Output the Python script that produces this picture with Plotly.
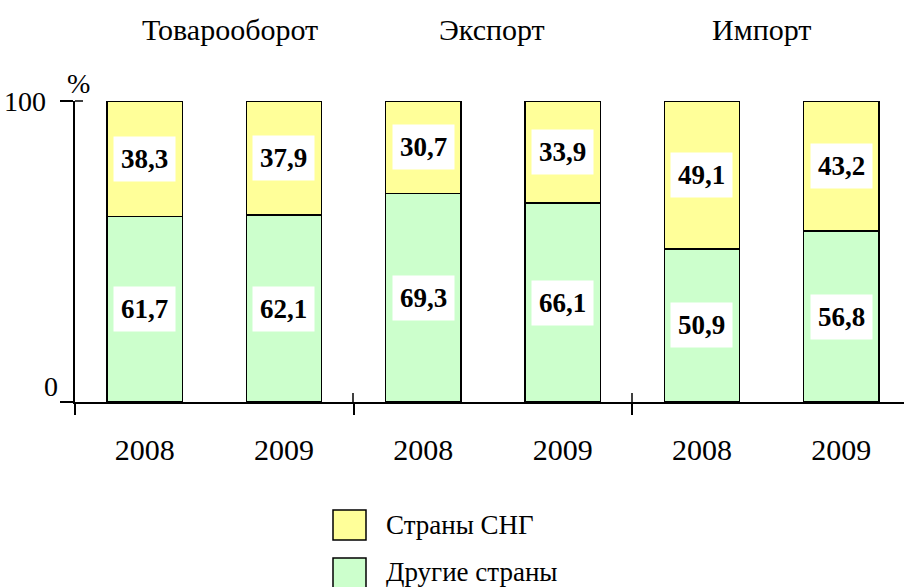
import plotly.graph_objects as go

groups = ["Товарооборот", "Экспорт", "Импорт"]
years = ["2008", "2009", "2008", "2009", "2008", "2009"]
other = [61.7, 62.1, 69.3, 66.1, 50.9, 56.8]   # Другие страны
cis = [38.3, 37.9, 30.7, 33.9, 49.1, 43.2]     # Страны СНГ
series_names = ["Страны СНГ", "Другие страны"]
y_ticks = [0, 100]

FONT = "Liberation Serif"
YELLOW = "#FFFF99"
GREEN = "#CCFFCC"

W, H = 904, 587
ML, MR, MT, MB = 75, 0, 101, 185
PW = W - ML - MR
PH = H - MT - MB

def px_x(p):
    return (p - ML) / PW

def px_y(p):
    return (H - MB - p) / PH

xs = list(range(len(years)))

fig = go.Figure()
fig.add_trace(go.Bar(x=xs, y=other, name=series_names[1], width=0.54,
                     marker=dict(color=GREEN, line=dict(color="black", width=1.5)),
                     showlegend=False, hoverinfo="skip"))
fig.add_trace(go.Bar(x=xs, y=cis, name=series_names[0], width=0.54,
                     marker=dict(color=YELLOW, line=dict(color="black", width=1.5)),
                     showlegend=False, hoverinfo="skip"))

annotations = []
# value labels
for i in xs:
    for val, mid in ((other[i], other[i] / 2), (cis[i], other[i] + cis[i] / 2)):
        annotations.append(dict(
            x=i, y=mid, xref="x", yref="y", showarrow=False,
            xanchor="center", yanchor="middle",
            text="<b>" + f"{val:.1f}".replace(".", ",") + "</b>",
            font=dict(family=FONT, size=27, color="black"),
            bgcolor="white", borderpad=7))

# group titles
title_x = [0.61, 2.49, 4.43]
for g, gx in zip(groups, title_x):
    annotations.append(dict(x=gx, y=px_y(29), xref="x", yref="paper",
                            xanchor="center", yanchor="middle",
                            text=g, showarrow=False,
                            font=dict(family=FONT, size=30, color="black")))

# y tick labels
annotations.append(dict(x=px_x(48), y=y_ticks[1], xref="paper", yref="y",
                        text=str(y_ticks[1]), showarrow=False,
                        xanchor="right", yanchor="middle",
                        font=dict(family=FONT, size=28, color="black")))
annotations.append(dict(x=px_x(60), y=y_ticks[0], yshift=16, xref="paper", yref="y",
                        text=str(y_ticks[0]), showarrow=False,
                        xanchor="right", yanchor="middle",
                        font=dict(family=FONT, size=28, color="black")))
annotations.append(dict(x=px_x(78), y=px_y(84), xref="paper", yref="paper",
                        text="%", showarrow=False, xanchor="center", yanchor="middle",
                        font=dict(family=FONT, size=28, color="black")))

# legend (manual)
legend_items = [(series_names[0], YELLOW, 510, 540, 525),
                (series_names[1], GREEN, 558, 588, 572)]
shapes = []
for name, col, t, b, cy in legend_items:
    shapes.append(dict(type="rect", xref="paper", yref="paper",
                       x0=px_x(333), x1=px_x(366), y0=px_y(b), y1=px_y(t),
                       fillcolor=col, line=dict(color="black", width=1.5)))
    annotations.append(dict(x=px_x(384), y=px_y(cy), xref="paper", yref="paper",
                            text=name, showarrow=False,
                            xanchor="left", yanchor="middle",
                            font=dict(family=FONT, size=27, color="black")))

# inward parts of crossing ticks
shapes.append(dict(type="line", xref="paper", yref="paper",
                   x0=px_x(75), x1=px_x(83), y0=1, y1=1,
                   line=dict(color="black", width=1.5)))
for d in (353, 632):
    shapes.append(dict(type="line", xref="paper", yref="paper",
                       x0=px_x(d), x1=px_x(d), y0=0, y1=px_y(393),
                       line=dict(color="black", width=1.5)))

fig.update_layout(
    width=W, height=H, barmode="stack",
    margin=dict(l=ML, r=MR, t=MT, b=MB, pad=0),
    plot_bgcolor="white", paper_bgcolor="white",
    font=dict(family=FONT, size=26, color="black"),
    annotations=annotations, shapes=shapes,
    xaxis=dict(range=[-0.5, 5.45], showgrid=False,
               zeroline=False, showline=True, linecolor="black", linewidth=1.5,
               tickvals=xs, ticktext=years, ticks="", ticklabelstandoff=20,
               tickfont=dict(family=FONT, size=30, color="black"),
               minor=dict(tickvals=[-0.5, 1.5, 3.5], ticks="outside", ticklen=11,
                          tickcolor="black", tickwidth=1.5, showgrid=False),
               fixedrange=True),
    yaxis=dict(range=[0, 100], showgrid=False, zeroline=False, showline=True,
               linecolor="black", linewidth=1.5, tickvals=y_ticks, ticks="outside",
               ticklen=13, tickcolor="black", tickwidth=1.5, showticklabels=False,
               fixedrange=True),
)

fig.write_html("out.html", config={"displayModeBar": False},
               post_script="document.body.style.margin='0';document.body.style.overflow='hidden';")
